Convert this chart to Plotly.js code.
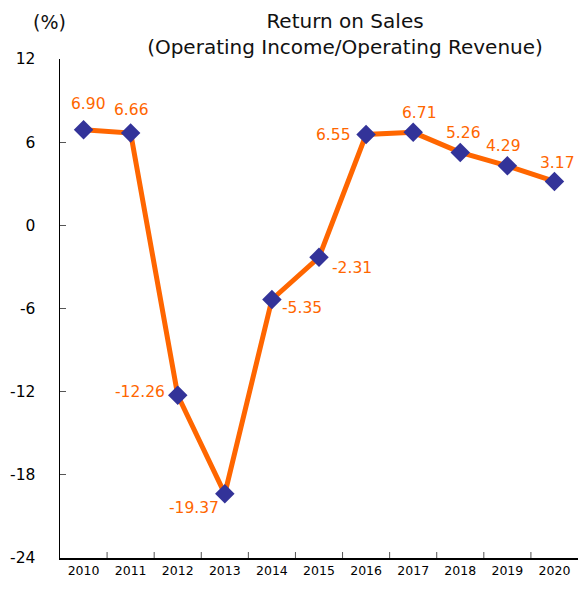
<!DOCTYPE html>
<html><head><meta charset="utf-8">
<script src="https://cdn.plot.ly/plotly-3.0.1.min.js"></script>
<style>body{margin:0}#c{width:578px;height:589px}</style>
</head><body><div id="c"></div>
<script>
const years = ['2010','2011','2012','2013','2014','2015','2016','2017','2018','2019','2020'];
const ros = [6.90, 6.66, -12.26, -19.37, -5.35, -2.31, 6.55, 6.71, 5.26, 4.29, 3.17];
const yTicks = [12, 6, 0, -6, -12, -18, -24];
// label offsets from each marker, in pixels (right, down)
const labelDx = [5, 1, -38, -31, 30, 33, -33, 6, 3, -4, 3];
const labelDy = [-26, -23, -3, 14, 9, 11, 0, -19, -19, -20, -18];
const FONT = 'DejaVu Sans, Liberation Sans, sans-serif';

const trace = {
  x: years.map(Number), y: ros, type: 'scatter', mode: 'lines+markers',
  line: {color: '#FF6600', width: 5},
  marker: {symbol: 'diamond', size: 15, color: '#333399'},
  cliponaxis: false, hoverinfo: 'skip'
};
const labels = ros.map((v, i) => ({
  text: v.toFixed(2), xref: 'x', yref: 'y', x: Number(years[i]), y: v,
  xshift: labelDx[i], yshift: -labelDy[i], xanchor: 'center', yanchor: 'middle',
  showarrow: false, font: {family: FONT, size: 15.5, color: '#FF6600'}
}));
const layout = {
  width: 578, height: 589,
  margin: {l: 60, r: 0, t: 59, b: 31},
  paper_bgcolor: '#fff', plot_bgcolor: '#fff',
  showlegend: false,
  font: {family: FONT, color: '#111'},
  title: {text: 'Return on Sales<br>(Operating Income/Operating Revenue)', x: 345/578, xanchor: 'center', yref: 'container', y: 1 - 28/589, yanchor: 'middle', font: {size: 20, color: '#111'}},
  xaxis: {range: [2009.5, 2020.5], tickvals: years.map(Number), ticktext: years, showgrid: false, zeroline: false,
    showline: true, linecolor: '#000', linewidth: 1.5, ticks: '', tickfont: {size: 12.5, color: '#000'}, fixedrange: true},
  yaxis: {range: [-24, 12], tickvals: yTicks, ticktext: yTicks.map(String), showgrid: false, zeroline: false,
    showline: true, linecolor: '#000', linewidth: 1.5, ticks: 'inside', ticklen: 6, tickcolor: '#555', tickfont: {size: 15.5, color: '#000'}, ticklabelstandoff: 20},
  shapes: years.slice(0, -1).map(y => ({type: 'line', xref: 'x', yref: 'paper', x0: Number(y) + 0.5, x1: Number(y) + 0.5, y0: 0, y1: 0.012, line: {color: '#555', width: 1}})),
  annotations: [{text: '(%)', xref: 'paper', yref: 'paper', x: -11/518, y: 1.074, xanchor: 'center', yanchor: 'middle', showarrow: false, font: {size: 19, color: '#111'}}].concat(labels)
};
Plotly.newPlot('c', [trace], layout, {displayModeBar: false, staticPlot: true});
</script></body></html>
